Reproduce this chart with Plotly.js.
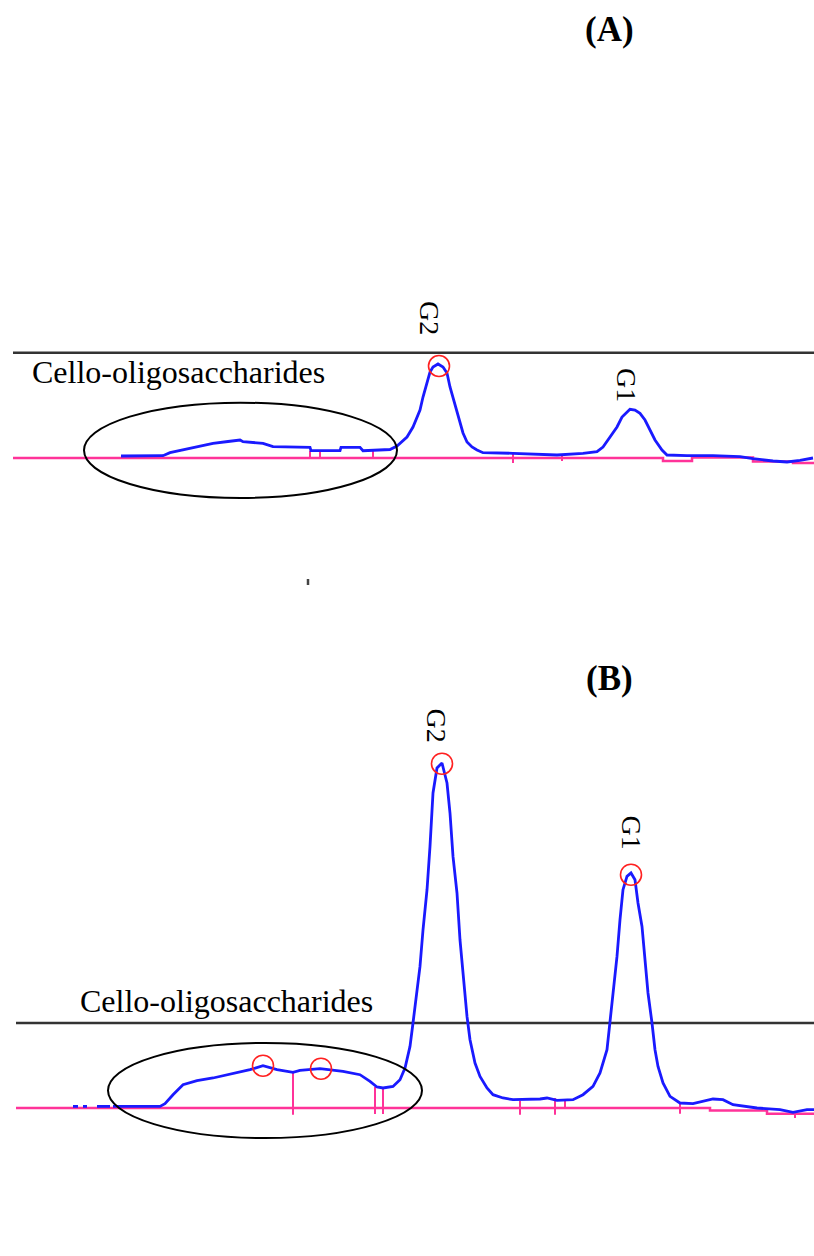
<!DOCTYPE html>
<html>
<head>
<meta charset="utf-8">
<script src="https://cdn.plot.ly/plotly-3.0.1.min.js"></script>
<style>html,body{margin:0;padding:0;background:#fff;}#chart{width:814px;height:1256px;}</style>
</head>
<body>
<div id="chart"></div>
<script>
// ---------- Panel A (retention position vs detector signal) ----------
const aSignalX = [121,137,142,163,170,185,200,213,228,240,243,255,263,273,310,311,340,341,360,363,380,390,397,
  407,413,417,420,423,427,430,433,438,443,447,450,453,457,460,463,467,472,477,483,
  513,537,557,583,597,603,610,617,622,627,630,635,640,645,650,655,662,667,687,713,740,753,773,787,800,813];
const aSignalY = [2,2,2,2.3,5.3,8.5,11.3,14.7,16.5,18,16.3,15.5,14.7,11.3,10.7,7.3,7.3,10.7,10.7,7.3,8,8.5,12,
  21,31,40,48,61,75,86,91,94,91,85,71,60,48,36,25,16,11,8,5.3,
  4.7,4,3,4.7,6.3,11,21,31,41,46,48.7,48,44.7,38,28,18,8,3,2.3,2.3,1.3,-0.7,-3,-4,-2.3,0];
const aBaseX = [13,663,692,753,793,814];
const aBaseY = [0,-3,0.5,-3.5,-5,-5];
const aDropX = [137,142,310,320,373,513,562];
const aDropLow = [0,0,0,0,0,-5,-3];
const aDropHigh = [2,2,7.3,7.3,7.3,4.7,3];
const aRefLevel = 105.3;
const aPeakX = [439];
const aPeakY = [92];
const aLabels = ["G2","G1","Cello-oligosaccharides","(A)"];
const aLabelX = [430,627,178,609];
const aLabelY = [140,73,86,428.5];

// ---------- Panel B ----------
const bSignalX = [73,78,null,83,87,null,97,110,null,113,160,165,173,183,197,213,233,250,263,277,293,300,320,343,360,370,377,383,
  393,400,405,410,413,417,420,423,427,430,433,437,442,447,450,453,457,460,463,467,470,475,480,487,493,503,
  513,540,547,557,573,583,593,600,607,610,613,617,620,623,627,631,635,638,642,645,648,652,655,658,663,670,
  680,693,703,713,723,733,757,780,793,807,814];
const bSignalY = [1.6,1.6,null,1.6,1.6,null,1.6,1.6,null,1.6,1.6,4.3,13.3,23.3,27.3,30,34.3,38.3,42.3,38.3,35.6,37.6,39.3,36.6,33.3,26.6,21,20,
  21.6,28.3,40,61.6,85,115,141.6,178,218,261.6,315,340,345,325,295,251.6,215,168,135,91.6,68.3,45,31.6,20,13.3,10,
  8.3,9,10,7.6,8.3,13.3,21.6,35,58.3,85,115,151.6,188.3,218.3,231.6,235,228.3,205,181.6,151.6,115,85,58.3,41.6,25,11.6,
  5,4.3,6.6,9,8.3,3.3,0,-1.7,-4.3,-1.7,-1.7];
const bBaseX = [16,710,767,814];
const bBaseY = [0,-2.4,-5.7,-5.7];
const bDropX = [293,375,383,520,555,565,680,795];
const bDropLow = [-6.7,-6,-6,-6.7,-6.7,-1,-5.7,-10];
const bDropHigh = [35.6,21,20,7,10,8,5,-4.3];
const bRefLevel = 85;
const bPeakX = [263,321,442,631];
const bPeakY = [42.3,39.3,344.3,233.3];
const bLabels = ["G2","G1","Cello-oligosaccharides","(B)"];
const bLabelX = [436.5,631.5,226,609];
const bLabelY = [383,276,107,430];

const BLUE = '#1a1aff', PINK = '#ff3399', RED = '#ff2020', DARK = '#333333';

function dropTrace(xs, lo, hi, yaxis) {
  const x = [], y = [];
  xs.forEach((v, i) => { x.push(v, v, null); y.push(lo[i], hi[i], null); });
  return {x, y, yaxis, mode:'lines', line:{color:PINK, width:2}, hoverinfo:'skip'};
}

const traces = [];
function panel(yaxis, sx, sy, bx, by, dx, dlo, dhi, ref, refStart, px, py) {
  traces.push({x:[refStart, 814], y:[ref, ref], yaxis, mode:'lines', line:{color:DARK, width:2.5}});
  traces.push({x:bx, y:by, yaxis, mode:'lines', line:{color:PINK, width:2.5, shape:'hv'}});
  traces.push(dropTrace(dx, dlo, dhi, yaxis));
  traces.push({x:sx, y:sy, yaxis, mode:'lines', connectgaps:false, line:{color:BLUE, width:2.8}});
  traces.push({x:px, y:py, yaxis, mode:'markers', marker:{symbol:'circle-open', size:21, color:RED, line:{color:RED, width:1.6}}});
}
panel('y', aSignalX, aSignalY, aBaseX, aBaseY, aDropX, aDropLow, aDropHigh, aRefLevel, 13, aPeakX, aPeakY);
panel('y2', bSignalX, bSignalY, bBaseX, bBaseY, bDropX, bDropLow, bDropHigh, bRefLevel, 16, bPeakX, bPeakY);

const FONT = 'Liberation Serif, Times New Roman, serif';
function labels(names, xs, ys, yref) {
  return names.map((t, i) => {
    const a = {text:t, x:xs[i], y:ys[i], xref:'x', yref, showarrow:false, xanchor:'center', yanchor:'middle',
      font:{family:FONT, size:28, color:'#000'}};
    if (t === 'G1' || t === 'G2') a.textangle = 90;
    else if (t.startsWith('(')) { a.text = '<b>' + t + '</b>'; a.font.size = 35; }
    else a.font.size = 32;
    return a;
  });
}

const layout = {
  width:814, height:1256, margin:{l:0,r:0,t:0,b:0},
  paper_bgcolor:'#ffffff', plot_bgcolor:'rgba(0,0,0,0)', showlegend:false,
  xaxis:{range:[0,814], visible:false, fixedrange:true},
  yaxis:{domain:[0.5,1], range:[-170,458], visible:false, anchor:'x'},
  yaxis2:{domain:[0,0.5], range:[-148,480], visible:false, anchor:'x'},
  shapes:[
    {type:'circle', xref:'x', yref:'y', x0:84, x1:397, y0:-40, y1:55.3, line:{color:'#000', width:2}},
    {type:'circle', xref:'x', yref:'y2', x0:108, x1:422, y0:-30, y1:65, line:{color:'#000', width:2}},
    {type:'line', xref:'x', yref:'y', x0:308, x1:308, y0:-121, y1:-127, line:{color:'#444', width:2.5}}
  ],
  annotations: labels(aLabels, aLabelX, aLabelY, 'y').concat(labels(bLabels, bLabelX, bLabelY, 'y2'))
};

Plotly.newPlot('chart', traces, layout, {displayModeBar:false, staticPlot:true});
</script>
</body>
</html>
